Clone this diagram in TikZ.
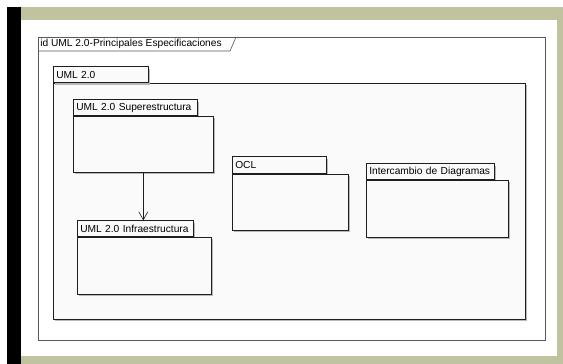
\documentclass[tikz,border=0pt]{standalone}
\usepackage{fontspec}
\setmainfont{Liberation Sans}
\usetikzlibrary{arrows.meta, shadows}

\definecolor{marco}{RGB}{193,194,160}
\definecolor{pkgfill}{RGB}{250,250,250}
\definecolor{linea}{RGB}{30,30,30}

\begin{document}
\begin{tikzpicture}[x=1pt, y=-1pt, line width=0.6pt,
		font=\fontsize{10.2}{12}\selectfont,
		sombra/.style={drop shadow={shadow xshift=2pt, shadow yshift=-2pt, fill=black!28, opacity=1}},
		pkg/.style={draw=linea, fill=pkgfill, inner sep=0pt, anchor=north west, sombra},
		pkgtab/.style={draw=linea, fill=pkgfill, anchor=south west, inner xsep=3pt, inner ysep=0pt,
			minimum height=16pt, text width=#1, align=left, sombra}]
			\useasboundingbox (0,0) rectangle (563,364);
			\fill[marco] (21,7) rectangle (563,364);
			\fill[white] (21,20) rectangle (557,356);
			\fill[black] (7,7) rectangle (21,364);
			\node[draw=black!65, fill=white, inner sep=0pt, anchor=north west,
				minimum width=507pt, minimum height=303pt] (frm) at (38,37) {};
			\draw[black!65] (38,51) -- (230,51) -- (236,37);
			\node[anchor=west, inner sep=1pt] (frmname) at (39,44) {id UML 2.0-Principales Especificaciones};
			\node[pkg, minimum width=472pt, minimum height=236pt] (uml) at (53,83) {};
			\node[pkgtab=89pt] (umlT) at (uml.north west) {UML 2.0};
			\node[pkgtab=118pt] (supT) at (73,116) {UML 2.0 Superestructura};
			\node[pkg, minimum width=140pt, minimum height=56pt] (sup) at (73,116) {};
			\node[pkgtab=110pt] (infT) at (77,237) {UML 2.0 Infraestructura};
			\node[pkg, minimum width=134pt, minimum height=57pt] (inf) at (77,237) {};
			\node[pkgtab=88pt, minimum height=17pt] (oclT) at (232,174) {OCL};
			\node[pkg, minimum width=116pt, minimum height=56pt] (ocl) at (232,174) {};
			\node[pkgtab=122pt] (diaT) at (366,180) {Intercambio de Diagramas};
			\node[pkg, minimum width=142pt, minimum height=57pt] (dia) at (366,180) {};
			\draw[linea, -{Straight Barb[length=8pt, width=9pt]}] (sup.south) -- (sup.south |- infT.north);
		\end{tikzpicture}
\end{document}
